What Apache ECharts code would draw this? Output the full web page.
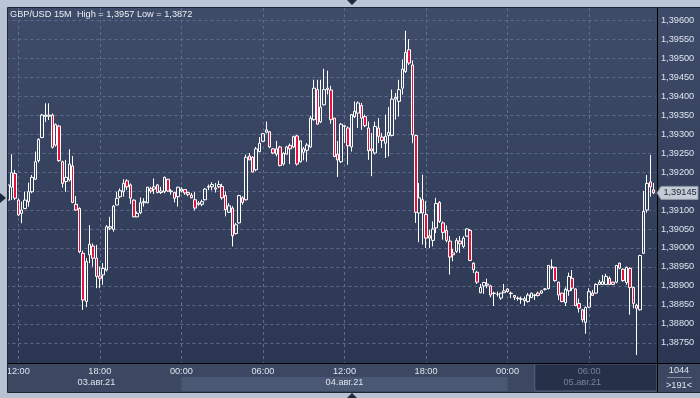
<!DOCTYPE html>
<html><head><meta charset="utf-8">
<script src="https://cdn.jsdelivr.net/npm/echarts@6/dist/echarts.min.js"></script>
<style>html,body{margin:0;padding:0;background:#b7c3d3}#c{width:700px;height:398px}</style>
</head><body><div id="c"></div>
<script>
// ---- data (GBP/USD 15M, 03.08.2021 11:15 .. 05.08.2021 10:45) ----
const startTime = '2021-08-03 11:15';
const stepMinutes = 15;
const open = [
1.39126,1.39160,1.39196,1.39126,1.39091,1.39104,1.39122,1.39148,1.39181,1.39230,
1.39291,1.39346,1.39347,1.39350,1.39271,1.39321,1.39227,1.39175,1.39179,1.39216,
1.39115,1.39104,1.38986,1.38859,1.38982,1.39005,1.38973,1.38926,1.38929,1.38942,
1.39052,1.39049,1.39113,1.39135,1.39148,1.39177,1.39166,1.39126,1.39082,1.39093,
1.39119,1.39119,1.39156,1.39155,1.39166,1.39146,1.39148,1.39181,1.39150,1.39146,
1.39135,1.39150,1.39154,1.39146,1.39139,1.39127,1.39118,1.39115,1.39127,1.39160,
1.39161,1.39158,1.39161,1.39162,1.39138,1.39094,1.39105,1.39038,1.39066,1.39132,
1.39127,1.39242,1.39239,1.39206,1.39254,1.39281,1.39305,1.39306,1.39261,1.39247,
1.39266,1.39221,1.39247,1.39270,1.39266,1.39295,1.39227,1.39252,1.39257,1.39266,
1.39338,1.39417,1.39332,1.39377,1.39417,1.39416,1.39342,1.39247,1.39227,1.39320,
1.39316,1.39266,1.39346,1.39355,1.39375,1.39346,1.39316,1.39261,1.39250,1.39316,
1.39292,1.39276,1.39296,1.39296,1.39397,1.39386,1.39421,1.39465,1.39522,1.39482,
1.39296,1.39092,1.39127,1.39088,1.39032,1.39020,1.39053,1.39120,1.39066,1.39046,
1.39018,1.38987,1.38991,1.39018,1.39004,1.39031,1.39046,1.38960,1.38936,1.38882,
1.38900,1.38902,1.38900,1.38881,1.38878,1.38868,1.38882,1.38892,1.38881,1.38875,
1.38868,1.38866,1.38861,1.38859,1.38869,1.38875,1.38881,1.38881,1.38891,1.38893,
1.38949,1.38949,1.38910,1.38881,1.38856,1.38887,1.38920,1.38892,1.38854,1.38837,
1.38804,1.38844,1.38881,1.38881,1.38904,1.38904,1.38904,1.38920,1.38910,1.38910,
1.38960,1.38944,1.38909,1.38946,1.38896,1.38849,1.38837,1.38986,1.39100,1.39174,
1.39153];
const close = [
1.39166,1.39198,1.39131,1.39087,1.39100,1.39126,1.39148,1.39186,1.39227,1.39286,
1.39350,1.39350,1.39350,1.39265,1.39325,1.39230,1.39170,1.39186,1.39221,1.39120,
1.39100,1.38990,1.38863,1.38964,1.39010,1.38973,1.38925,1.38920,1.38946,1.39056,
1.39056,1.39110,1.39131,1.39151,1.39170,1.39161,1.39131,1.39082,1.39091,1.39119,
1.39122,1.39160,1.39150,1.39161,1.39146,1.39150,1.39186,1.39150,1.39148,1.39131,
1.39160,1.39155,1.39145,1.39141,1.39132,1.39105,1.39115,1.39122,1.39155,1.39162,
1.39167,1.39155,1.39167,1.39132,1.39101,1.39111,1.39032,1.39061,1.39138,1.39120,
1.39239,1.39232,1.39200,1.39261,1.39276,1.39301,1.39311,1.39266,1.39250,1.39261,
1.39217,1.39249,1.39266,1.39261,1.39293,1.39221,1.39282,1.39261,1.39271,1.39342,
1.39421,1.39326,1.39371,1.39417,1.39421,1.39338,1.39241,1.39232,1.39326,1.39322,
1.39269,1.39351,1.39360,1.39382,1.39342,1.39322,1.39256,1.39256,1.39320,1.39294,
1.39283,1.39294,1.39304,1.39392,1.39392,1.39417,1.39471,1.39515,1.39487,1.39298,
1.39094,1.39132,1.39092,1.39026,1.39026,1.39050,1.39117,1.39070,1.39041,1.39020,
1.38976,1.38982,1.39020,1.39011,1.39026,1.39050,1.38967,1.38943,1.38910,1.38896,
1.38909,1.38905,1.38876,1.38880,1.38878,1.38881,1.38887,1.38885,1.38880,1.38870,
1.38867,1.38865,1.38866,1.38876,1.38881,1.38876,1.38875,1.38887,1.38892,1.38954,
1.38950,1.38914,1.38876,1.38859,1.38891,1.38925,1.38894,1.38848,1.38841,1.38811,
1.38843,1.38885,1.38875,1.38904,1.38910,1.38911,1.38925,1.38904,1.38904,1.38954,
1.38947,1.38914,1.38949,1.38896,1.38854,1.38841,1.38980,1.39096,1.39170,1.39161,
1.39145];
const low = [
1.39120,1.39126,1.39126,1.39084,1.39065,1.39102,1.39109,1.39144,1.39179,1.39225,
1.39289,1.39332,1.39337,1.39262,1.39267,1.39227,1.39159,1.39148,1.39175,1.39118,
1.39098,1.38986,1.38837,1.38844,1.38960,1.38951,1.38894,1.38894,1.38903,1.38938,
1.39047,1.39043,1.39113,1.39131,1.39135,1.39153,1.39116,1.39081,1.39081,1.39089,
1.39109,1.39118,1.39144,1.39142,1.39144,1.39142,1.39144,1.39148,1.39140,1.39120,
1.39109,1.39146,1.39140,1.39136,1.39131,1.39099,1.39111,1.39110,1.39125,1.39152,
1.39152,1.39146,1.39158,1.39127,1.39083,1.39092,1.39004,1.39035,1.39064,1.39114,
1.39125,1.39231,1.39199,1.39202,1.39252,1.39279,1.39302,1.39263,1.39247,1.39241,
1.39215,1.39217,1.39246,1.39221,1.39263,1.39217,1.39225,1.39231,1.39227,1.39263,
1.39335,1.39325,1.39329,1.39375,1.39404,1.39327,1.39239,1.39187,1.39224,1.39276,
1.39219,1.39254,1.39342,1.39316,1.39311,1.39318,1.39232,1.39189,1.39246,1.39276,
1.39263,1.39237,1.39241,1.39294,1.39338,1.39346,1.39404,1.39461,1.39482,1.39276,
1.39066,1.39015,1.39009,1.39000,1.39000,1.39004,1.39039,1.39066,1.39022,1.39015,
1.38930,1.38965,1.38987,1.38987,1.39000,1.39029,1.38965,1.38934,1.38905,1.38881,
1.38879,1.38894,1.38870,1.38847,1.38872,1.38863,1.38881,1.38883,1.38868,1.38863,
1.38861,1.38853,1.38848,1.38856,1.38868,1.38863,1.38872,1.38879,1.38888,1.38891,
1.38944,1.38911,1.38863,1.38857,1.38847,1.38874,1.38887,1.38847,1.38830,1.38804,
1.38774,1.38842,1.38874,1.38879,1.38903,1.38903,1.38903,1.38903,1.38903,1.38907,
1.38944,1.38911,1.38903,1.38824,1.38841,1.38718,1.38835,1.38984,1.39093,1.39135,
1.39142];
const high = [
1.39170,1.39247,1.39205,1.39131,1.39122,1.39148,1.39172,1.39192,1.39254,1.39289,
1.39353,1.39381,1.39381,1.39354,1.39328,1.39324,1.39230,1.39232,1.39260,1.39242,
1.39137,1.39107,1.38993,1.38973,1.39060,1.39012,1.39008,1.38951,1.38960,1.39060,
1.39082,1.39113,1.39148,1.39157,1.39181,1.39181,1.39170,1.39128,1.39096,1.39133,
1.39131,1.39161,1.39161,1.39183,1.39168,1.39161,1.39188,1.39182,1.39155,1.39148,
1.39161,1.39160,1.39155,1.39148,1.39145,1.39147,1.39123,1.39127,1.39158,1.39167,
1.39173,1.39171,1.39177,1.39169,1.39149,1.39118,1.39110,1.39066,1.39140,1.39136,
1.39246,1.39250,1.39241,1.39266,1.39292,1.39303,1.39333,1.39308,1.39263,1.39282,
1.39269,1.39252,1.39269,1.39275,1.39296,1.39298,1.39283,1.39266,1.39276,1.39348,
1.39443,1.39443,1.39443,1.39472,1.39467,1.39427,1.39342,1.39282,1.39329,1.39322,
1.39320,1.39353,1.39386,1.39386,1.39382,1.39351,1.39333,1.39303,1.39333,1.39342,
1.39303,1.39351,1.39371,1.39417,1.39408,1.39443,1.39496,1.39572,1.39550,1.39494,
1.39298,1.39171,1.39193,1.39123,1.39048,1.39070,1.39132,1.39123,1.39070,1.39059,
1.39031,1.38997,1.39026,1.39031,1.39031,1.39052,1.39050,1.38962,1.38940,1.38905,
1.38911,1.38919,1.38903,1.38885,1.38885,1.38882,1.38905,1.38894,1.38885,1.38876,
1.38872,1.38872,1.38872,1.38881,1.38882,1.38879,1.38885,1.38889,1.38894,1.38955,
1.38970,1.38949,1.38911,1.38882,1.38896,1.38935,1.38942,1.38894,1.38867,1.38839,
1.38846,1.38894,1.38889,1.38907,1.38916,1.38929,1.38932,1.38925,1.38911,1.38955,
1.38961,1.38946,1.38951,1.38949,1.38898,1.38853,1.38982,1.39150,1.39192,1.39245,
1.39171];
const yTickValues = [1.3875,1.388,1.3885,1.389,1.3895,1.39,1.3905,1.391,1.3915,1.392,1.3925,1.393,1.3935,1.394,1.3945,1.395,1.3955,1.396];
const timeLabelHours = [0, 6, 12, 18];
const dateLabelTimes = ['2021-08-03 17:45', '2021-08-04 12:00', '2021-08-05 05:30'];
const dateLabelTexts = ['03.авг.21', '04.авг.21', '05.авг.21'];
const titleText = 'GBP/USD 15M  High = 1,3957 Low = 1,3872';
const lastPrice = 1.39145;
const totalBars = '1044';
const visibleBars = '>191<';

// ---- build categories ----
function pad(n){return (n<10?'0':'')+n;}
const categories = [];
(function(){
  const p = startTime.split(/[- :]/).map(Number);
  const t0 = Date.UTC(p[0], p[1]-1, p[2], p[3], p[4]);
  for (let k = 0; k < open.length; k++) {
    const d = new Date(t0 + k*stepMinutes*60000);
    categories.push(d.getUTCFullYear()+'-'+pad(d.getUTCMonth()+1)+'-'+pad(d.getUTCDate())+' '+pad(d.getUTCHours())+':'+pad(d.getUTCMinutes()));
  }
})();
const ohlc = open.map((o,k)=>[o, close[k], low[k], high[k]]);
function isTimeTick(v){ const hh=+v.slice(11,13), mm=v.slice(14,16); return mm==='00' && timeLabelHours.indexOf(hh)>=0; }
const dimFrom = '2021-08-05 02:00';

const FONT = 'Liberation Sans, Arial, sans-serif';
const FS = 9.2;
const chart = echarts.init(document.getElementById('c'), null, {renderer:'canvas'});
const gridLeft = 6.4, gridRightEdge = 655.4, gridTop = 8, gridBottomEdge = 363;

chart.setOption({
  backgroundColor: '#b7c3d3',
  animation: false,
  title: { text: titleText, left: 10, top: 10, padding: 0,
    textStyle: { fontSize: FS, fontWeight: 'normal', color: '#e9edf3', fontFamily: FONT } },
  grid: { left: gridLeft, right: 700 - gridRightEdge, top: gridTop, bottom: 398 - gridBottomEdge },
  xAxis: [{
    type: 'category', data: categories, boundaryGap: true,
    axisLine: { show: true, lineStyle: { color: '#000', width: 1 } },
    axisTick: { show: false },
    axisLabel: { interval: (i, v) => isTimeTick(v), formatter: v => v.slice(11), margin: 4,
      fontSize: FS, fontFamily: FONT, color: v => (v >= dimFrom ? '#76839a' : '#dde4ee') },
    splitLine: { show: true, interval: (i, v) => isTimeTick(v), alignWithLabel: true,
      lineStyle: { color: '#5d6c8a', type: [3, 3], width: 1 } }
  }, {
    type: 'category', data: categories, boundaryGap: true, position: 'bottom', offset: 11,
    axisLine: { show: false }, axisTick: { show: false }, splitLine: { show: false },
    axisLabel: { interval: (i, v) => dateLabelTimes.indexOf(v) >= 0,
      formatter: v => dateLabelTexts[dateLabelTimes.indexOf(v)] || '', margin: 4,
      fontSize: FS, fontFamily: FONT, color: v => (v >= dimFrom ? '#76839a' : '#dde4ee') }
  }],
  yAxis: {
    type: 'value', position: 'right', min: 1.38697, max: 1.39632, offset: 1.6,
    axisLine: { show: true, lineStyle: { color: '#000', width: 1 } },
    axisTick: { show: false, customValues: yTickValues },
    axisLabel: { customValues: yTickValues, margin: 4, fontSize: FS, fontFamily: FONT, color: '#dde4ee',
      formatter: v => v.toFixed(5).replace('.', ',') },
    splitLine: { show: true, lineStyle: { color: '#5d6c8a', type: [3, 3], width: 1 } }
  },
  series: [{
    type: 'candlestick', data: ohlc, barWidth: 3,
    itemStyle: { color: 'rgba(0,0,0,0)', color0: '#e5123e', borderColor: '#ffffff', borderColor0: '#ffffff', borderWidth: 1 }
  }]
});

// ---- frame decoration ----
const px = k => chart.convertToPixel({xAxisIndex: 0}, categories[k]);
const py = v => chart.convertToPixel({yAxisIndex: 0}, v);
const iDay4 = categories.indexOf('2021-08-04 00:00');
const iDay5 = categories.indexOf('2021-08-05 00:00');
const iDim = categories.indexOf(dimFrom);
const xD4 = px(iDay4), xD5 = px(iDay5), xDim = px(iDim);
const yLast = py(lastPrice);
const grad = new echarts.graphic.LinearGradient(0, 0, 0, 1, [{offset:0,color:'#3f4c69'},{offset:1,color:'#2b3652'}]);
const BG = -100, TOP = 100;
chart.setOption({ graphic: [
  { type:'rect', z:BG, shape:{x:8,y:8,width:649,height:355}, style:{fill:grad} },
  { type:'rect', z:BG, shape:{x:657,y:8,width:43,height:355}, style:{fill:grad} },
  { type:'rect', z:BG, shape:{x:8,y:363,width:692,height:29}, style:{fill:'#3c4862'} },
  { type:'rect', z:BG, shape:{x:xD4,y:377,width:xD5-xD4,height:14}, style:{fill:'#4b5873'} },
  { type:'rect', z:BG, shape:{x:xDim,y:364,width:657-xDim,height:27}, style:{fill:'#263049', stroke:'#56637c', lineWidth:1} },
  // frame
  { type:'rect', z:TOP, shape:{x:0,y:0,width:7.5,height:398}, style:{fill:'#b7c3d3'} },
  { type:'rect', z:TOP, shape:{x:0,y:0,width:700,height:7.5}, style:{fill:'#bac6d5'} },
  { type:'rect', z:TOP, shape:{x:0,y:392,width:700,height:6}, style:{fill:'#b7c3d3'} },
  { type:'rect', z:TOP, shape:{x:7.5,y:7.5,width:693,height:385}, style:{fill:null, stroke:'#1c2536', lineWidth:1} },
  { type:'line', z:TOP, shape:{x1:657.5,y1:8,x2:657.5,y2:392}, style:{stroke:'#000', lineWidth:1} },
  { type:'line', z:TOP, shape:{x1:655,y1:363.5,x2:700,y2:363.5}, style:{stroke:'#000', lineWidth:1} },
  { type:'polygon', z:TOP, shape:{points:[[347,0],[357,0],[352,5]]}, style:{fill:'#1f2a3d'} },
  { type:'polygon', z:TOP, shape:{points:[[347,398],[357,398],[352,393]]}, style:{fill:'#1f2a3d'} },
  { type:'polygon', z:TOP, shape:{points:[[0,193],[0,203],[6,198]]}, style:{fill:'#1f2a3d'} },
  // last price label
  { type:'polygon', z:TOP, shape:{points:[[657,yLast],[661,yLast-6.5],[698,yLast-6.5],[698,yLast+6.5],[661,yLast+6.5]]},
    style:{fill:'#c4cbd5', stroke:'#8d97a8', lineWidth:1} },
  { type:'text', z:TOP+1, x:680, y:yLast, style:{text: lastPrice.toFixed(5).replace('.', ','), fill:'#1b2336', font: FS+'px '+FONT, align:'center', verticalAlign:'middle'} },
  // bar counters
  { type:'text', z:TOP, x:679, y:370.5, style:{text: totalBars, fill:'#dde4ee', font: FS+'px '+FONT, align:'center', verticalAlign:'middle'} },
  { type:'line', z:TOP, shape:{x1:667,y1:377.5,x2:692,y2:377.5}, style:{stroke:'#7d8aa2', lineWidth:1} },
  { type:'text', z:TOP, x:679, y:385, style:{text: visibleBars, fill:'#dde4ee', font: FS+'px '+FONT, align:'center', verticalAlign:'middle'} }
]});
</script>
</body></html>
